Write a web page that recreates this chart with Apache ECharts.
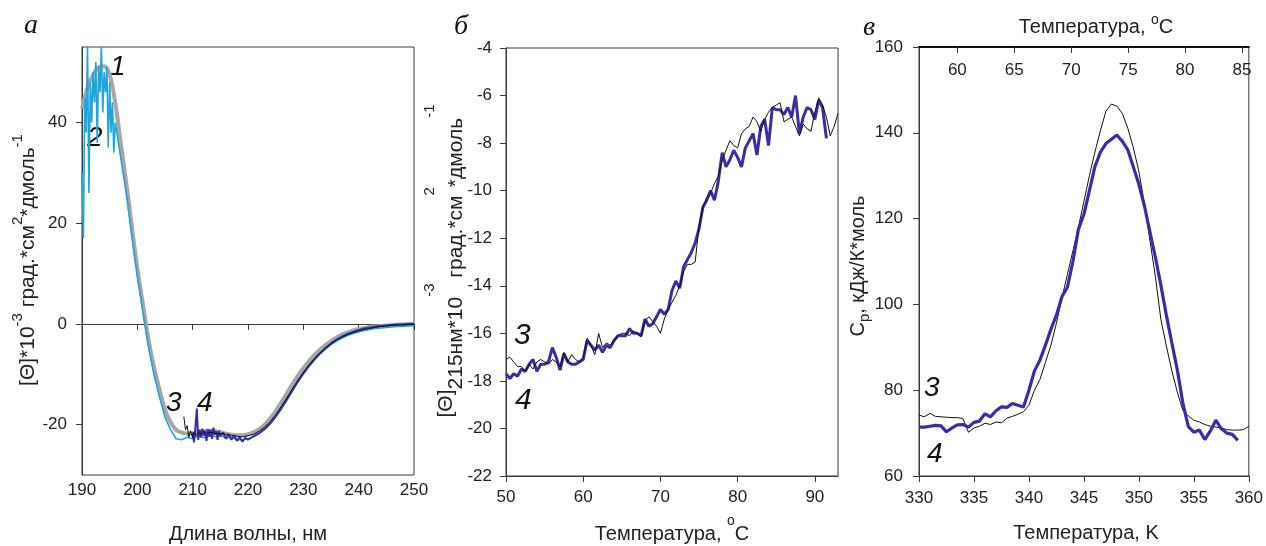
<!DOCTYPE html>
<html><head><meta charset="utf-8">
<script src="https://cdn.jsdelivr.net/npm/echarts@6/dist/echarts.min.js"></script>
<style>html,body{margin:0;padding:0;background:#fff}#c{width:1266px;height:546px}</style>
</head><body><div id="c"></div>
<script>
// ---------- Panel а : CD spectra ----------
const wlGray1 = [190,191,192,193,194,195,196,197,198,199,200,201,202,203,204,205,206,207,208,209,210,211,212,213,214,215,216,217,218,219,220,221,222,223,224,225,226,227,228,229,230,231,232,233,234,235,236,237,238,239,240,241,242,243,244,245,246,247,248,249,250];
const cdGray1 = [42.8,47,49.5,51,51.2,49.5,44,36,28,19.5,11,4,-3,-8.5,-13,-17,-19.5,-21,-21.6,-21.8,-21.7,-21.5,-21.3,-21.2,-21.3,-21.5,-21.8,-22,-22.1,-22.1,-21.9,-21.5,-20.9,-20,-18.8,-17.3,-15.6,-13.8,-12,-10.3,-8.8,-7.4,-6.2,-5.1,-4.2,-3.4,-2.7,-2.1,-1.7,-1.3,-1.0,-0.8,-0.6,-0.5,-0.4,-0.3,-0.2,-0.15,-0.1,-0.05,0];

const wlCyan2 = [190,190.25,190.5,190.75,191,191.25,191.5,191.75,192,192.25,192.5,192.75,193,193.25,193.5,193.75,194,194.25,194.5,194.75,195,195.25,195.5,195.75,196,197,198,199,200,201,202,203,204,205,206,207,208,209,210,211,212,213,214,215,216,217,218,219,220,221,222,223,224,225,226,227,228,229,230,231,232,233,234,235,236,237,238,239,240,241,242,243,244,245,246,247,248,249,250];
const cdCyan2 = [30,17,45,38,55,26,48,40,50,44,52,36,51,46,55,42,50,46,51,35,48,38,44,34,40,33,26,17.5,9.5,2.5,-4.5,-10,-14.5,-18.5,-21,-22.8,-23,-22.5,-22.8,-22.2,-22.6,-22,-22.4,-22.2,-22.6,-22.5,-23,-23,-22.8,-22.4,-21.8,-20.8,-19.8,-18.4,-16.9,-15.2,-13.4,-11.6,-10,-8.5,-7.2,-6,-5,-4.1,-3.4,-2.8,-2.3,-1.9,-1.6,-1.3,-1.1,-0.9,-0.8,-0.7,-0.6,-0.5,-0.5,-0.4,-0.4];

const wlBlue4 = [210,210.25,210.5,210.75,211,211.25,211.5,211.75,212,212.25,212.5,212.75,213,213.25,213.5,213.75,214,214.25,214.5,214.75,215,215.5,216,216.5,217,217.5,218,218.5,219,219.5,220,221,222,223,224,225,226,227,228,229,230,231,232,233,234,235,236,237,238,239,240,241,242,243,244,245,246,247,248,249,250];
const cdBlue4 = [-21.5,-23.5,-20.5,-16.8,-23,-21,-22.5,-20.8,-22.2,-21.2,-23.2,-20.9,-22.4,-21,-22.8,-20.6,-22,-21.3,-23,-21.2,-22.3,-21.6,-22.8,-21.9,-23,-22.2,-23.2,-22.5,-23.4,-22.6,-23,-22.3,-21.7,-20.9,-19.8,-18.4,-16.8,-15,-13.2,-11.4,-9.8,-8.3,-7,-5.8,-4.8,-3.9,-3.1,-2.5,-2,-1.6,-1.2,-0.9,-0.7,-0.5,-0.4,-0.3,-0.2,-0.1,-0.1,0,0];

const wlBlack3 = [208.4,208.7,209,209.3,209.6,210,210.3,210.6,211,211.5,212,212.5,213,214,215,216,217,218,219,220,221,222,223,224,225,226,227,228,229,230,231,232,233,234,235,236,237,238,239,240,241,242,243,244,245,246,247,248,249,250];
const cdBlack3 = [-18.4,-21,-20.2,-22.5,-21.2,-22.6,-21.5,-22.2,-21.6,-21.9,-21.4,-21.8,-21.5,-21.7,-21.8,-21.9,-22.1,-22.3,-22.4,-22.2,-21.9,-21.3,-20.5,-19.4,-18,-16.4,-14.7,-12.9,-11.2,-9.6,-8.2,-6.9,-5.8,-4.8,-3.9,-3.2,-2.6,-2.1,-1.7,-1.4,-1.1,-0.9,-0.7,-0.5,-0.4,-0.3,-0.2,-0.2,-0.1,-0.1];

const aYTicks = [-20,0,20,40];

// ---------- Panel б : [Θ]215 vs temperature ----------
const tBlack3 = [50,50.5,51,51.5,52,52.5,53,53.5,54,54.5,55,55.5,56,56.5,57,57.5,58,58.5,59,59.5,60,60.5,61,61.5,62,62.5,63,63.5,64,64.5,65,65.5,66,66.5,67,67.5,68,68.5,69,69.5,70,70.5,71,71.5,72,72.5,73,73.5,74,74.5,75,75.5,76,76.5,77,77.5,78,78.5,79,79.5,80,80.5,81,81.5,82,82.5,83,83.5,84,84.5,85,85.5,86,86.5,87,87.5,88,88.5,89,89.5,90,90.5,91,91.5,92,92.5,93];
const thBlack3 = [-17.1,-17.0,-17.2,-17.4,-17.4,-17.6,-17.3,-17.5,-17.2,-17.1,-17.2,-17.3,-17.1,-17.2,-17.4,-16.8,-17.2,-16.9,-17.1,-17.2,-17.0,-16.2,-16.5,-16.9,-16.0,-16.6,-16.4,-16.5,-16.3,-16.1,-16.0,-16.0,-16.1,-15.9,-16.0,-16.15,-15.5,-15.3,-15.5,-15.7,-16.0,-15.4,-15.0,-14.7,-14.4,-14.0,-13.4,-13.1,-13.1,-13.0,-11.5,-10.7,-10.3,-10.1,-9.7,-9.4,-8.7,-8.3,-7.9,-8.1,-8.2,-7.6,-7.4,-7.3,-6.9,-7.1,-7.5,-7.0,-6.7,-6.5,-6.4,-6.3,-7.1,-7.0,-6.9,-7.3,-7.7,-7.2,-7.4,-7.5,-6.7,-6.1,-6.4,-6.9,-7.7,-7.3,-6.75];

const tBlue4 = [50,50.5,51,51.5,52,52.5,53,53.5,54,54.5,55,55.5,56,56.5,57,57.5,58,58.5,59,59.5,60,60.5,61,61.5,62,62.5,63,63.5,64,64.5,65,65.5,66,66.5,67,67.5,68,68.5,69,69.5,70,70.5,71,71.5,72,72.5,73,73.5,74,74.5,75,75.5,76,76.5,77,77.5,78,78.5,79,79.5,80,80.5,81,81.5,82,82.5,83,83.5,84,84.5,85,85.5,86,86.5,87,87.5,88,88.5,89,89.5,90,90.5,91,91.5];
const thBlue4 = [-17.7,-17.9,-17.7,-17.8,-17.5,-17.6,-17.3,-17.1,-17.6,-17.3,-17.3,-17.2,-16.6,-17.0,-17.55,-16.85,-17.2,-17.3,-17.3,-17.2,-17.1,-16.3,-16.5,-16.7,-16.5,-16.8,-16.5,-16.6,-16.3,-16.1,-16.1,-16.1,-15.8,-16.0,-16.0,-16.1,-15.4,-15.7,-15.6,-15.3,-15.0,-15.2,-15.0,-14.2,-13.8,-14.1,-13.2,-12.9,-12.6,-12.2,-11.6,-10.7,-10.4,-10.0,-10.4,-9.6,-8.4,-9.0,-8.7,-8.3,-8.6,-9.0,-8.2,-7.9,-7.6,-8.5,-7.3,-7.0,-8.1,-6.5,-6.6,-6.6,-6.8,-6.5,-6.9,-6.0,-7.6,-6.9,-6.5,-6.6,-7.0,-6.2,-6.5,-7.8];

// ---------- Panel в : DSC ----------
const kBlack3 = [330,330.5,331,331.5,332,332.5,333,333.5,334,334.5,335,335.5,336,336.5,337,337.5,338,338.5,339,339.5,340,340.5,341,341.5,342,342.5,343,343.5,344,344.5,345,345.5,346,346.5,347,347.5,348,348.5,349,349.5,350,350.5,351,351.5,352,352.5,353,353.5,354,354.5,355,355.5,356,356.5,357,357.5,358,358.5,359,359.5,360];
const cpBlack3 = [74.2,73.8,74.6,73.9,73.8,73.7,73.6,73.6,73.4,70.2,71.2,71.6,72.3,72.0,72.6,72.4,73.5,73.9,74.4,75.0,76.5,80.0,82.5,86.5,90.5,95.6,101.5,107.0,112.5,118.0,124.0,130.0,135.5,140.5,145.0,146.7,146.2,144.5,141.0,136.5,131.0,123.5,115.0,106.5,96.5,90.3,84.5,79.5,75.3,74.0,73.0,72.6,72.0,71.6,71.4,71.2,70.8,70.7,70.7,70.8,71.6];

const kBlue4 = [330,330.5,331,331.5,332,332.5,333,333.5,334,334.5,335,335.5,336,336.5,337,337.5,338,338.5,339,339.5,340,340.5,341,341.5,342,342.5,343,343.5,344,344.5,345,345.5,346,346.5,347,347.5,348,348.5,349,349.5,350,350.5,351,351.5,352,352.5,353,353.5,354,354.5,355,355.5,356,356.5,357,357.5,358,358.5,359];
const cpBlue4 = [71.4,71.4,71.6,71.8,71.7,70.3,71.2,71.9,72.0,71.4,72.5,72.8,74.5,73.8,75.2,76.1,76.0,76.9,76.5,76.1,80.0,84.5,87.0,90.5,94.2,97.5,101.8,104.0,110.0,117.5,121.0,126.5,132.1,135.5,137.5,138.5,139.5,138.0,136.0,132.0,128.0,123.0,117.0,111.0,104.5,97.5,91.0,84.7,77.0,71.5,70.2,70.7,68.5,70.5,73.0,71.0,70.0,69.7,68.3];

const cTopTicks = [60,65,70,75,80,85];

function zip(xs, ys){ return xs.map((x,i)=>[x, ys[i]]); }

const FONT = '"Liberation Sans", Arial, sans-serif';
const AX = '#3a3a3a';
const TXT = '#222';
const lab = {fontSize: 17, fontFamily: FONT, color: TXT};

function tok(size, pad){ const o = {fontSize: size, fontFamily: FONT, fill: TXT, verticalAlign: 'middle'}; if (pad) o.padding = pad; return o; }

const richA = { n: tok(21), s: tok(15, [0,0,21,0]) };
const richB = { r: tok(21, [0,0,20,0]), n: tok(21), s: tok(15, [0,0,52,0]) };
const richC = { n: tok(20), b: tok(15, [13,0,0,0]) };
const richX = { n: tok(20), s: tok(14, [0,0,26,0]) };
const richXTop = { n: tok(20), s: tok(14, [0,0,14,0]) };

function title(text, x, y, rich, rot){
  return {type: 'text', x: x, y: y, rotation: rot || 0, silent: true,
    style: {text: text, rich: rich, align: 'center', verticalAlign: 'middle', fill: TXT, fontFamily: FONT, fontSize: 20}};
}

function valAxis(o){
  return Object.assign({
    type: 'value',
    axisLine: {show: true, lineStyle: {color: AX, width: 1}},
    axisTick: {show: true, length: 6, lineStyle: {color: AX}},
    splitLine: {show: false},
    axisLabel: Object.assign({}, lab)
  }, o);
}

const chart = echarts.init(document.getElementById('c'), null, {renderer: 'canvas'});
const numFont = 'italic 28px "Liberation Sans", sans-serif';
const numFontB = 'italic 30px "Liberation Sans", sans-serif';
const letFont = 'italic 28px "Liberation Serif", serif';
const R = Math.PI / 2;

const option = {
  animation: false,
  backgroundColor: '#fff',
  grid: [
    {left: 82, top: 47, width: 332, height: 428, show: true, borderColor: AX, borderWidth: 1, backgroundColor: 'transparent'},
    {left: 506, top: 48, width: 332, height: 428, show: true, borderColor: AX, borderWidth: 1, backgroundColor: 'transparent'},
    {left: 919, top: 47, width: 333, height: 429, show: true, borderColor: AX, borderWidth: 1, backgroundColor: 'transparent'}
  ],
  xAxis: [
    valAxis({gridIndex: 0, min: 190, max: 250, interval: 10,
      axisLabel: Object.assign({}, lab, {margin: 7})}),
    valAxis({gridIndex: 1, min: 50, max: 93, interval: 10,
      axisLabel: Object.assign({}, lab, {margin: 13, showMaxLabel: false})}),
    valAxis({gridIndex: 2, min: 330, max: 360, interval: 5,
      axisLabel: Object.assign({}, lab, {margin: 14})}),
    valAxis({gridIndex: 2, position: 'top', min: 56.63, max: 85.6,
      axisTick: {show: true, inside: true, length: 6, customValues: cTopTicks, lineStyle: {color: AX}},
      axisLabel: Object.assign({}, lab, {inside: true, margin: 15, customValues: cTopTicks}),
      axisLine: {show: true, lineStyle: {color: '#111', width: 2}}})
  ],
  yAxis: [
    valAxis({gridIndex: 0, min: -30, max: 55,
      axisTick: {show: true, length: 6, customValues: aYTicks, lineStyle: {color: AX}},
      axisLabel: Object.assign({}, lab, {margin: 15, customValues: aYTicks})}),
    valAxis({gridIndex: 1, min: -22, max: -4, interval: 2,
      axisLabel: Object.assign({}, lab, {margin: 14})}),
    valAxis({gridIndex: 2, min: 60, max: 160, interval: 20,
      axisLabel: Object.assign({}, lab, {margin: 16})})
  ],
  series: [
    {type: 'line', xAxisIndex: 0, yAxisIndex: 0, data: zip(wlGray1, cdGray1), showSymbol: false, smooth: 0.3, lineStyle: {color: '#a7a7a7', width: 4}},
    {type: 'line', xAxisIndex: 0, yAxisIndex: 0, data: zip(wlCyan2, cdCyan2), showSymbol: false, lineStyle: {color: '#1ea5db', width: 1.6}},
    {type: 'line', xAxisIndex: 0, yAxisIndex: 0, data: zip(wlBlue4, cdBlue4), showSymbol: false, lineStyle: {color: '#3b2ca6', width: 2}},
    {type: 'line', xAxisIndex: 0, yAxisIndex: 0, data: zip(wlBlack3, cdBlack3), showSymbol: false, lineStyle: {color: '#111', width: 1}},

    {type: 'line', xAxisIndex: 1, yAxisIndex: 1, data: zip(tBlue4, thBlue4), showSymbol: false, lineStyle: {color: '#3b2ca6', width: 3}},
    {type: 'line', xAxisIndex: 1, yAxisIndex: 1, data: zip(tBlack3, thBlack3), showSymbol: false, lineStyle: {color: '#111', width: 1}},

    {type: 'line', xAxisIndex: 2, yAxisIndex: 2, data: zip(kBlack3, cpBlack3), showSymbol: false, lineStyle: {color: '#111', width: 1}},
    {type: 'line', xAxisIndex: 2, yAxisIndex: 2, data: zip(kBlue4, cpBlue4), showSymbol: false, lineStyle: {color: '#3b2ca6', width: 3.2}}
  ],
  graphic: [
    // axis titles
    title('{n|Длина волны, нм}', 248, 534, richX),
    title('{n|Температура, }{s|o}{n|C}', 672, 534, richX),
    title('{n|Температура, K}', 1086, 533, richX),
    title('{n|Температура, }{s|o}{n|C}', 1096, 27, richXTop),
    title('{n|[Θ]*10}{s|-3}{n| град.*см}{s|2}{n|*дмоль}{s|-1}', 28, 260, richA, R),
    title('{r|[Θ]}{n|215нм*10}{s|-3}{n| град.*см}{s|2}{n|*дмоль}{s|-1}', 456, 261, richB, R),
    title('{n|C}{b|p}{n|, кДж/К*моль}', 858, 266, richC, R),
    // panel letters
    {type: 'text', left: 24, top: 12, style: {text: 'а', font: letFont, fill: '#111'}},
    {type: 'text', left: 454, top: 13, style: {text: 'б', font: letFont, fill: '#111'}},
    {type: 'text', left: 863, top: 14, style: {text: 'в', font: letFont, fill: '#111'}},
    // curve numbers
    {type: 'text', left: 110, top: 53, style: {text: '1', font: numFont, fill: '#111'}},
    {type: 'text', left: 87, top: 124, style: {text: '2', font: numFont, fill: '#111'}},
    {type: 'text', left: 166, top: 389, style: {text: '3', font: numFont, fill: '#111'}},
    {type: 'text', left: 197, top: 389, style: {text: '4', font: numFont, fill: '#111'}},
    {type: 'text', left: 514, top: 321, style: {text: '3', font: numFontB, fill: '#111'}},
    {type: 'text', left: 515, top: 386, style: {text: '4', font: numFontB, fill: '#111'}},
    {type: 'text', left: 924, top: 374, style: {text: '3', font: numFont, fill: '#111'}},
    {type: 'text', left: 927, top: 440, style: {text: '4', font: numFont, fill: '#111'}}
  ]
};
chart.setOption(option);
</script>
</body></html>
